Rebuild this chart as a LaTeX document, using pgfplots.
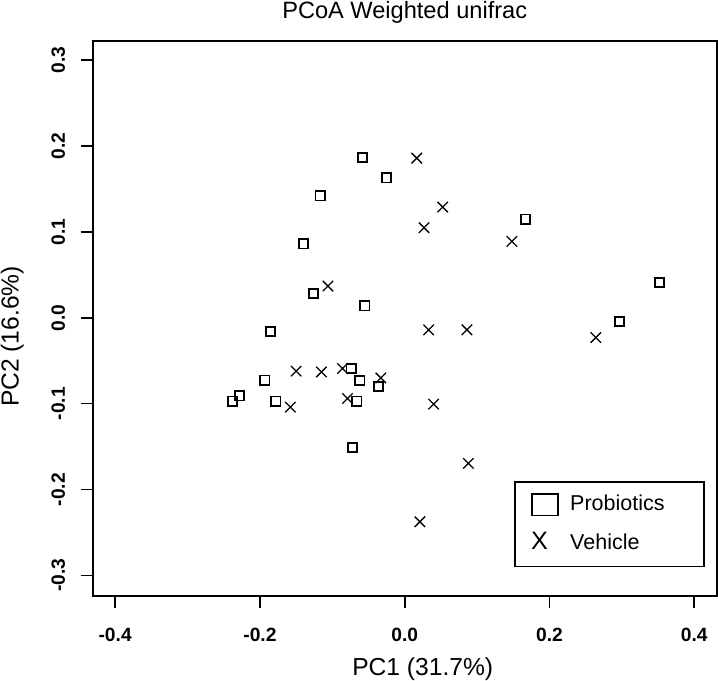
\documentclass[border=0pt]{standalone}
\usepackage{fontspec}
\setmainfont{Liberation Sans}
\usepackage{pgfplots}
\pgfplotsset{compat=1.18}
\begin{document}
\begin{tikzpicture}
\begin{axis}[
  name=ax,
  scale only axis,
  width=312bp, height=277.75bp,
  xmin=-0.431, xmax=0.431, ymin=-0.324, ymax=0.323,
  axis line style={line width=1bp, black},
  xtick={-0.4,-0.2,0,0.2,0.4},
  xticklabels={-0.4,-0.2,0.0,0.2,0.4},
  ytick={-0.3,-0.2,-0.1,0,0.1,0.2,0.3},
  yticklabels={-0.3,-0.2,-0.1,0.0,0.1,0.2,0.3},
  tick align=outside,
  major tick length=6bp,
  tick style={line width=0.8bp, black},
  xtick pos=bottom, ytick pos=left,
  ticklabel style={font=\fontsize{9.6bp}{9.6bp}\selectfont\bfseries, inner sep=0pt},
  xticklabel style={anchor=north},
  yticklabel style={rotate=90, anchor=south},
  xticklabel shift=9.6bp,
  yticklabel shift=7.6bp,
  legend cell align=left,
  legend style={at={(0.6756,0.2070)}, anchor=north west, draw=black, line width=0.75bp,
    inner xsep=8bp, inner ysep=4.65bp, row sep=5.95bp, column sep=5.65bp,
    nodes={inner sep=0pt, text height=9.5bp, text depth=4.05bp},
    font=\fontsize{10.75bp}{10.75bp}\selectfont},
]
\addplot[only marks, mark=square, mark size=2.3bp, mark options={line width=0.9bp, black},
  legend image code/.code={\draw[line width=0.75bp, black] (0bp,-5.35bp) rectangle (13.2bp,5.35bp);}]
coordinates {
(-0.058,0.187) (-0.025,0.163) (-0.117,0.142) (-0.140,0.086) (-0.126,0.028)
(-0.055,0.014) (-0.185,-0.016) (-0.074,-0.059) (-0.193,-0.0725) (-0.062,-0.073)
(-0.036,-0.080) (-0.2285,-0.091) (-0.2376,-0.097) (-0.178,-0.097) (-0.066,-0.097)
(-0.072,-0.151) (0.167,0.115) (0.352,0.041) (0.297,-0.004)
};
\addlegendentry{Probiotics\hspace*{11.7bp}}
\addplot[only marks, mark=x, mark size=3.68bp, mark options={line width=0.65bp, black},
  legend image code/.code={\path[draw=none, fill=none] (0bp,-1bp) (13.2bp,1bp);
    \node[anchor=west, inner sep=0pt, draw=none, font=\fontsize{12.6bp}{12.6bp}\selectfont] at (-0.65bp,0bp) {X};}]
coordinates {
(0.0166,0.186) (0.0525,0.129) (0.0267,0.105) (-0.106,0.037) (-0.150,-0.062)
(-0.115,-0.063) (-0.086,-0.059) (-0.033,-0.070) (-0.158,-0.104) (-0.079,-0.094)
(0.040,-0.1005) (0.148,0.089) (0.264,-0.023) (0.033,-0.014) (0.086,-0.014)
(0.088,-0.1695) (0.021,-0.2375)
};
\addlegendentry{Vehicle}
\end{axis}
\node[anchor=base, inner sep=0pt, font=\fontsize{11.8bp}{11.8bp}\selectfont] at ([yshift=11.1bp]ax.north) {PCoA Weighted unifrac};
\node[anchor=base, inner sep=0pt, font=\fontsize{12.3bp}{12.3bp}\selectfont] at ([xshift=9bp, yshift=-39.5bp]ax.south) {PC1 (31.7\%)};
\node[rotate=90, anchor=base, inner sep=0pt, font=\fontsize{12.3bp}{12.3bp}\selectfont] at ([xshift=-37.1bp, yshift=-9.1bp]ax.west) {PC2 (16.6\%)};
\pgfresetboundingbox
\path[use as bounding box] ([shift={(-46.35bp,-42bp)}]ax.south west) rectangle ([shift={(0.65bp,20.25bp)}]ax.north east);
\end{tikzpicture}
\end{document}
